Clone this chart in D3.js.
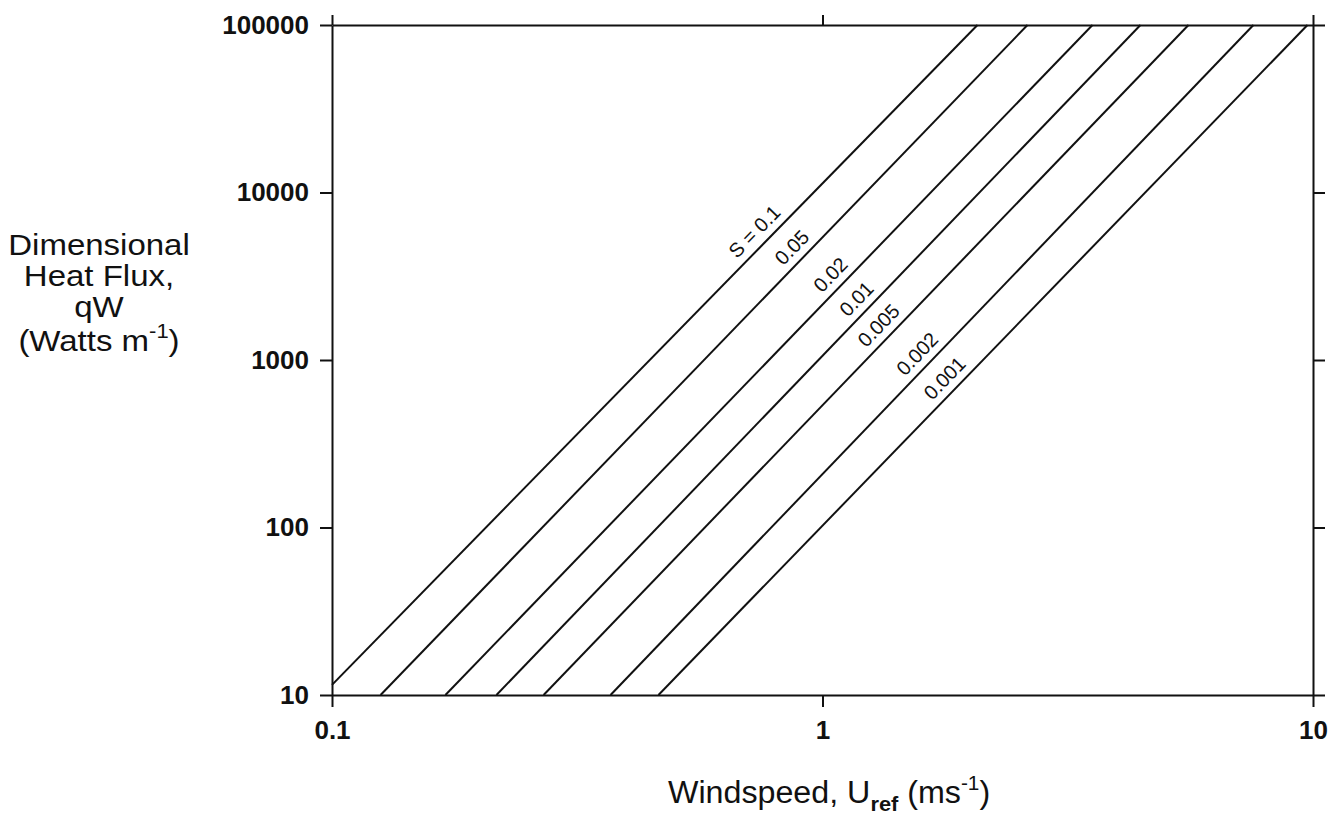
<!DOCTYPE html>
<html>
<head>
<meta charset="utf-8">
<script src="https://cdn.jsdelivr.net/npm/d3@7"></script>
<style>
  body { margin: 0; background: #fff; }
  svg { display: block; }
  text { font-family: "Liberation Sans", Arial, sans-serif; fill: #111; }
</style>
</head>
<body>
<div id="chart"></div>
<script>
// values: each S line runs from (uStart,qStart) to (uEnd,qEnd)
const sLabels = ["S = 0.1", "0.05", "0.02", "0.01", "0.005", "0.002", "0.001"];
const uStart = [0.1, 0.1256, 0.1703, 0.2164, 0.2700, 0.3697, 0.4630];
const qStart = [11.5, 10, 10, 10, 10, 10, 10];
const uEnd = [2.07, 2.618, 3.552, 4.449, 5.574, 7.561, 9.745];
const qEnd = [100000, 100000, 100000, 100000, 100000, 100000, 100000];

const xTicks = [0.1, 1, 10];
const xTickLabels = ["0.1", "1", "10"];
const yTicks = [10, 100, 1000, 10000, 100000];
const yTickLabels = ["10", "100", "1000", "10000", "100000"];

// layout
const width = 1344, height = 819;
const margin = {top: 25, right: 31, bottom: 124, left: 332};
const labelU = [0.764, 0.911, 1.092, 1.234, 1.369, 1.641, 1.866]; // where along each line its label sits
const labelOffset = 15;
const tickLen = 12;

const svg = d3.select("#chart").append("svg")
    .attr("width", width)
    .attr("height", height);

const x = d3.scaleLog().domain([0.1, 10]).range([margin.left, width - margin.right]);
const y = d3.scaleLog().domain([10, 100000]).range([height - margin.bottom, margin.top]);

function styleAxis(g, showText) {
    g.selectAll("path.domain").attr("stroke", "#111").attr("stroke-width", 2);
    g.selectAll(".tick line").attr("stroke", "#111").attr("stroke-width", 2);
    g.selectAll(".tick text")
        .attr("fill", "#111")
        .style("font-size", "26px")
        .style("font-weight", "bold")
        .style("font-family", '"Liberation Sans", Arial, sans-serif')
        .style("display", showText ? null : "none");
}

svg.append("g")
    .attr("transform", `translate(${margin.left},0)`)
    .call(d3.axisLeft(y).tickValues(yTicks).tickFormat((d, i) => yTickLabels[i])
        .tickSize(tickLen).tickSizeOuter(0).tickPadding(11))
    .call(g => styleAxis(g, true));

svg.append("g")
    .attr("transform", `translate(${width - margin.right},0)`)
    .call(d3.axisRight(y).tickValues(yTicks).tickSize(tickLen).tickSizeOuter(0))
    .call(g => styleAxis(g, false));

svg.append("g")
    .attr("transform", `translate(0,${height - margin.bottom})`)
    .call(d3.axisBottom(x).tickValues(xTicks).tickFormat((d, i) => xTickLabels[i])
        .tickSize(tickLen).tickSizeOuter(0).tickPadding(14))
    .call(g => styleAxis(g, true));

svg.append("g")
    .attr("transform", `translate(0,${margin.top})`)
    .call(d3.axisTop(x).tickValues(xTicks).tickSize(10).tickSizeOuter(0))
    .call(g => styleAxis(g, false));

// S lines
const line = d3.line().x(d => x(d[0])).y(d => y(d[1]));
const lines = sLabels.map((s, i) => ({
    label: s,
    pts: [[uStart[i], qStart[i]], [uEnd[i], qEnd[i]]]
}));

svg.append("g").selectAll("path")
    .data(lines)
    .join("path")
    .attr("d", d => line(d.pts))
    .attr("fill", "none")
    .attr("stroke", "#111")
    .attr("stroke-width", 2);

// labels rotated along their line, sitting on its upper-left side
svg.append("g").selectAll("text")
    .data(lines)
    .join("text")
    .attr("transform", (d, i) => {
        const [a, b] = d.pts;
        const x0 = x(a[0]), y0 = y(a[1]), x1 = x(b[0]), y1 = y(b[1]);
        const ang = Math.atan2(y1 - y0, x1 - x0);
        const t = (Math.log(labelU[i]) - Math.log(a[0])) / (Math.log(b[0]) - Math.log(a[0]));
        const px = x0 + t * (x1 - x0) + Math.sin(ang) * labelOffset;
        const py = y0 + t * (y1 - y0) - Math.cos(ang) * labelOffset;
        return `translate(${px},${py}) rotate(${ang * 180 / Math.PI})`;
    })
    .attr("text-anchor", "middle")
    .attr("dominant-baseline", "central")
    .style("font-size", "20px")
    .text(d => d.label);

// x title
const xt = svg.append("text")
    .attr("transform", "translate(668,803) scale(1.04,1)")
    .style("font-size", "31px");
xt.append("tspan").text("Windspeed, U");
xt.append("tspan").attr("dy", 8).style("font-size", "21px").style("font-weight", "bold").text("ref");
xt.append("tspan").attr("dy", -8).text(" (ms");
xt.append("tspan").attr("dy", -13).style("font-size", "20px").text("-1");
xt.append("tspan").attr("dy", 13).text(")");

// y title
const yTitle = ["Dimensional", "Heat Flux,", "qW"];
const ySize = "30px";
const yt = svg.append("g");
yt.selectAll("text.yl")
    .data(yTitle)
    .join("text")
    .attr("class", "yl")
    .attr("transform", (d, i) => `translate(99,${255 + i * 31}) scale(1.1,1)`)
    .attr("text-anchor", "middle")
    .style("font-size", ySize)
    .text(d => d);
const last = yt.append("text")
    .attr("transform", "translate(99,351) scale(1.1,1)")
    .attr("text-anchor", "middle")
    .style("font-size", ySize);
last.append("tspan").text("(Watts m");
last.append("tspan").attr("dy", -13).style("font-size", "20px").text("-1");
last.append("tspan").attr("dy", 13).text(")");
</script>
</body>
</html>
